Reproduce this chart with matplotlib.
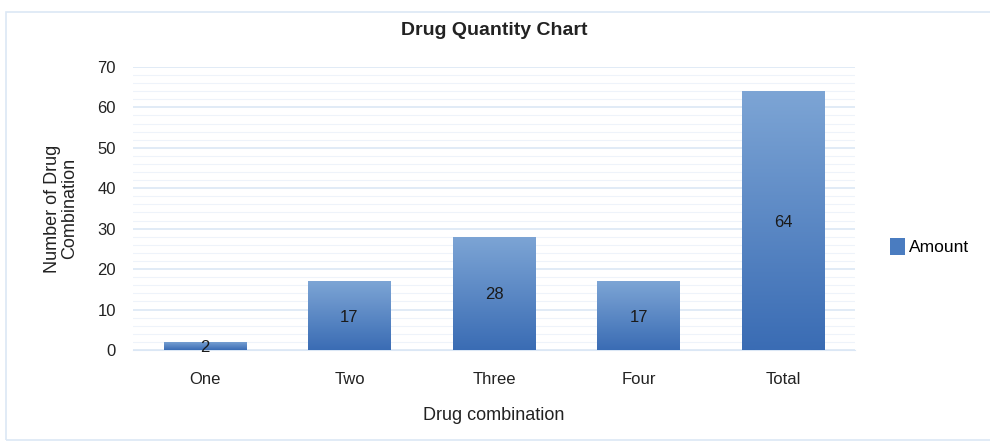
import matplotlib
matplotlib.use("Agg")
import matplotlib.pyplot as plt
import numpy as np
from matplotlib.patches import Rectangle, Patch

categories = ["One", "Two", "Three", "Four", "Total"]
amounts = [2, 17, 28, 17, 64]
series_name = "Amount"

plt.rcParams['font.family'] = ['Liberation Sans', 'DejaVu Sans']

fig = plt.figure(figsize=(9.9, 4.43), dpi=100)
ax = fig.add_axes([0.134, 0.21, 0.730, 0.639])

# outer chart border
fig.patches.append(Rectangle((0.006, 0.007), 0.998, 0.966, transform=fig.transFigure,
                             fill=False, edgecolor='#dce8f5', linewidth=1.2))

x = np.arange(len(categories))
bars = ax.bar(x, amounts, width=0.57, color='#4a7cc0', edgecolor='none', zorder=3)

# vertical gradient fill
top_c = np.array([0x7d, 0xa5, 0xd5]) / 255
bot_c = np.array([0x3a, 0x6c, 0xb4]) / 255
grad = np.linspace(0, 1, 256)[:, None]
img = top_c[None, None, :] * (1 - grad[:, :, None]) + bot_c[None, None, :] * grad[:, :, None]
for b in bars:
    x0, y0, w, h = b.get_x(), b.get_y(), b.get_width(), b.get_height()
    im = ax.imshow(img, extent=[x0, x0 + w, y0, y0 + h], aspect='auto', zorder=3.5,
                   origin='upper')
    im.set_clip_path(b)

for xi, v in zip(x, amounts):
    ypos = v / 2 - 0.4 if v > 5 else 0.6
    ax.text(xi, ypos, str(v), ha='center', va='center',
            fontsize=12, color='#1a1a1a', zorder=5)

ax.set_xlim(-0.5, len(categories) - 0.5)
ax.set_ylim(0, 70)
ax.set_yticks(np.arange(0, 71, 10))
ax.set_yticks(np.arange(0, 71, 2), minor=True)
ax.grid(axis='y', which='major', color='#dbe7f5', linewidth=1.2, zorder=0)
ax.grid(axis='y', which='minor', color='#eef3fa', linewidth=0.8, zorder=0)
ax.set_xticks(x)
ax.set_xticklabels(categories)
ax.tick_params(axis='both', which='both', length=0, labelsize=12, colors='#222222')
ax.tick_params(axis='x', pad=16)
ax.tick_params(axis='y', pad=12)
for s in ['top', 'right', 'left']:
    ax.spines[s].set_visible(False)
ax.spines['bottom'].set_color('#dbe7f5')

ax.set_title("Drug Quantity Chart", fontsize=14, fontweight='bold', color='#222222', pad=23)
ax.set_xlabel("Drug combination", fontsize=13, color='#222222', labelpad=14)
ax.set_ylabel("Number of Drug\nCombination", fontsize=13, color='#222222', labelpad=14,
              linespacing=1.0)

fig.legend(handles=[Patch(facecolor='#4a7cc0', label=series_name)],
           loc='center left', bbox_to_anchor=(0.883, 0.443), frameon=False,
           fontsize=12.5, handlelength=0.9, handleheight=1.1, handletextpad=0.2)

fig.savefig("out.png", dpi=100)
